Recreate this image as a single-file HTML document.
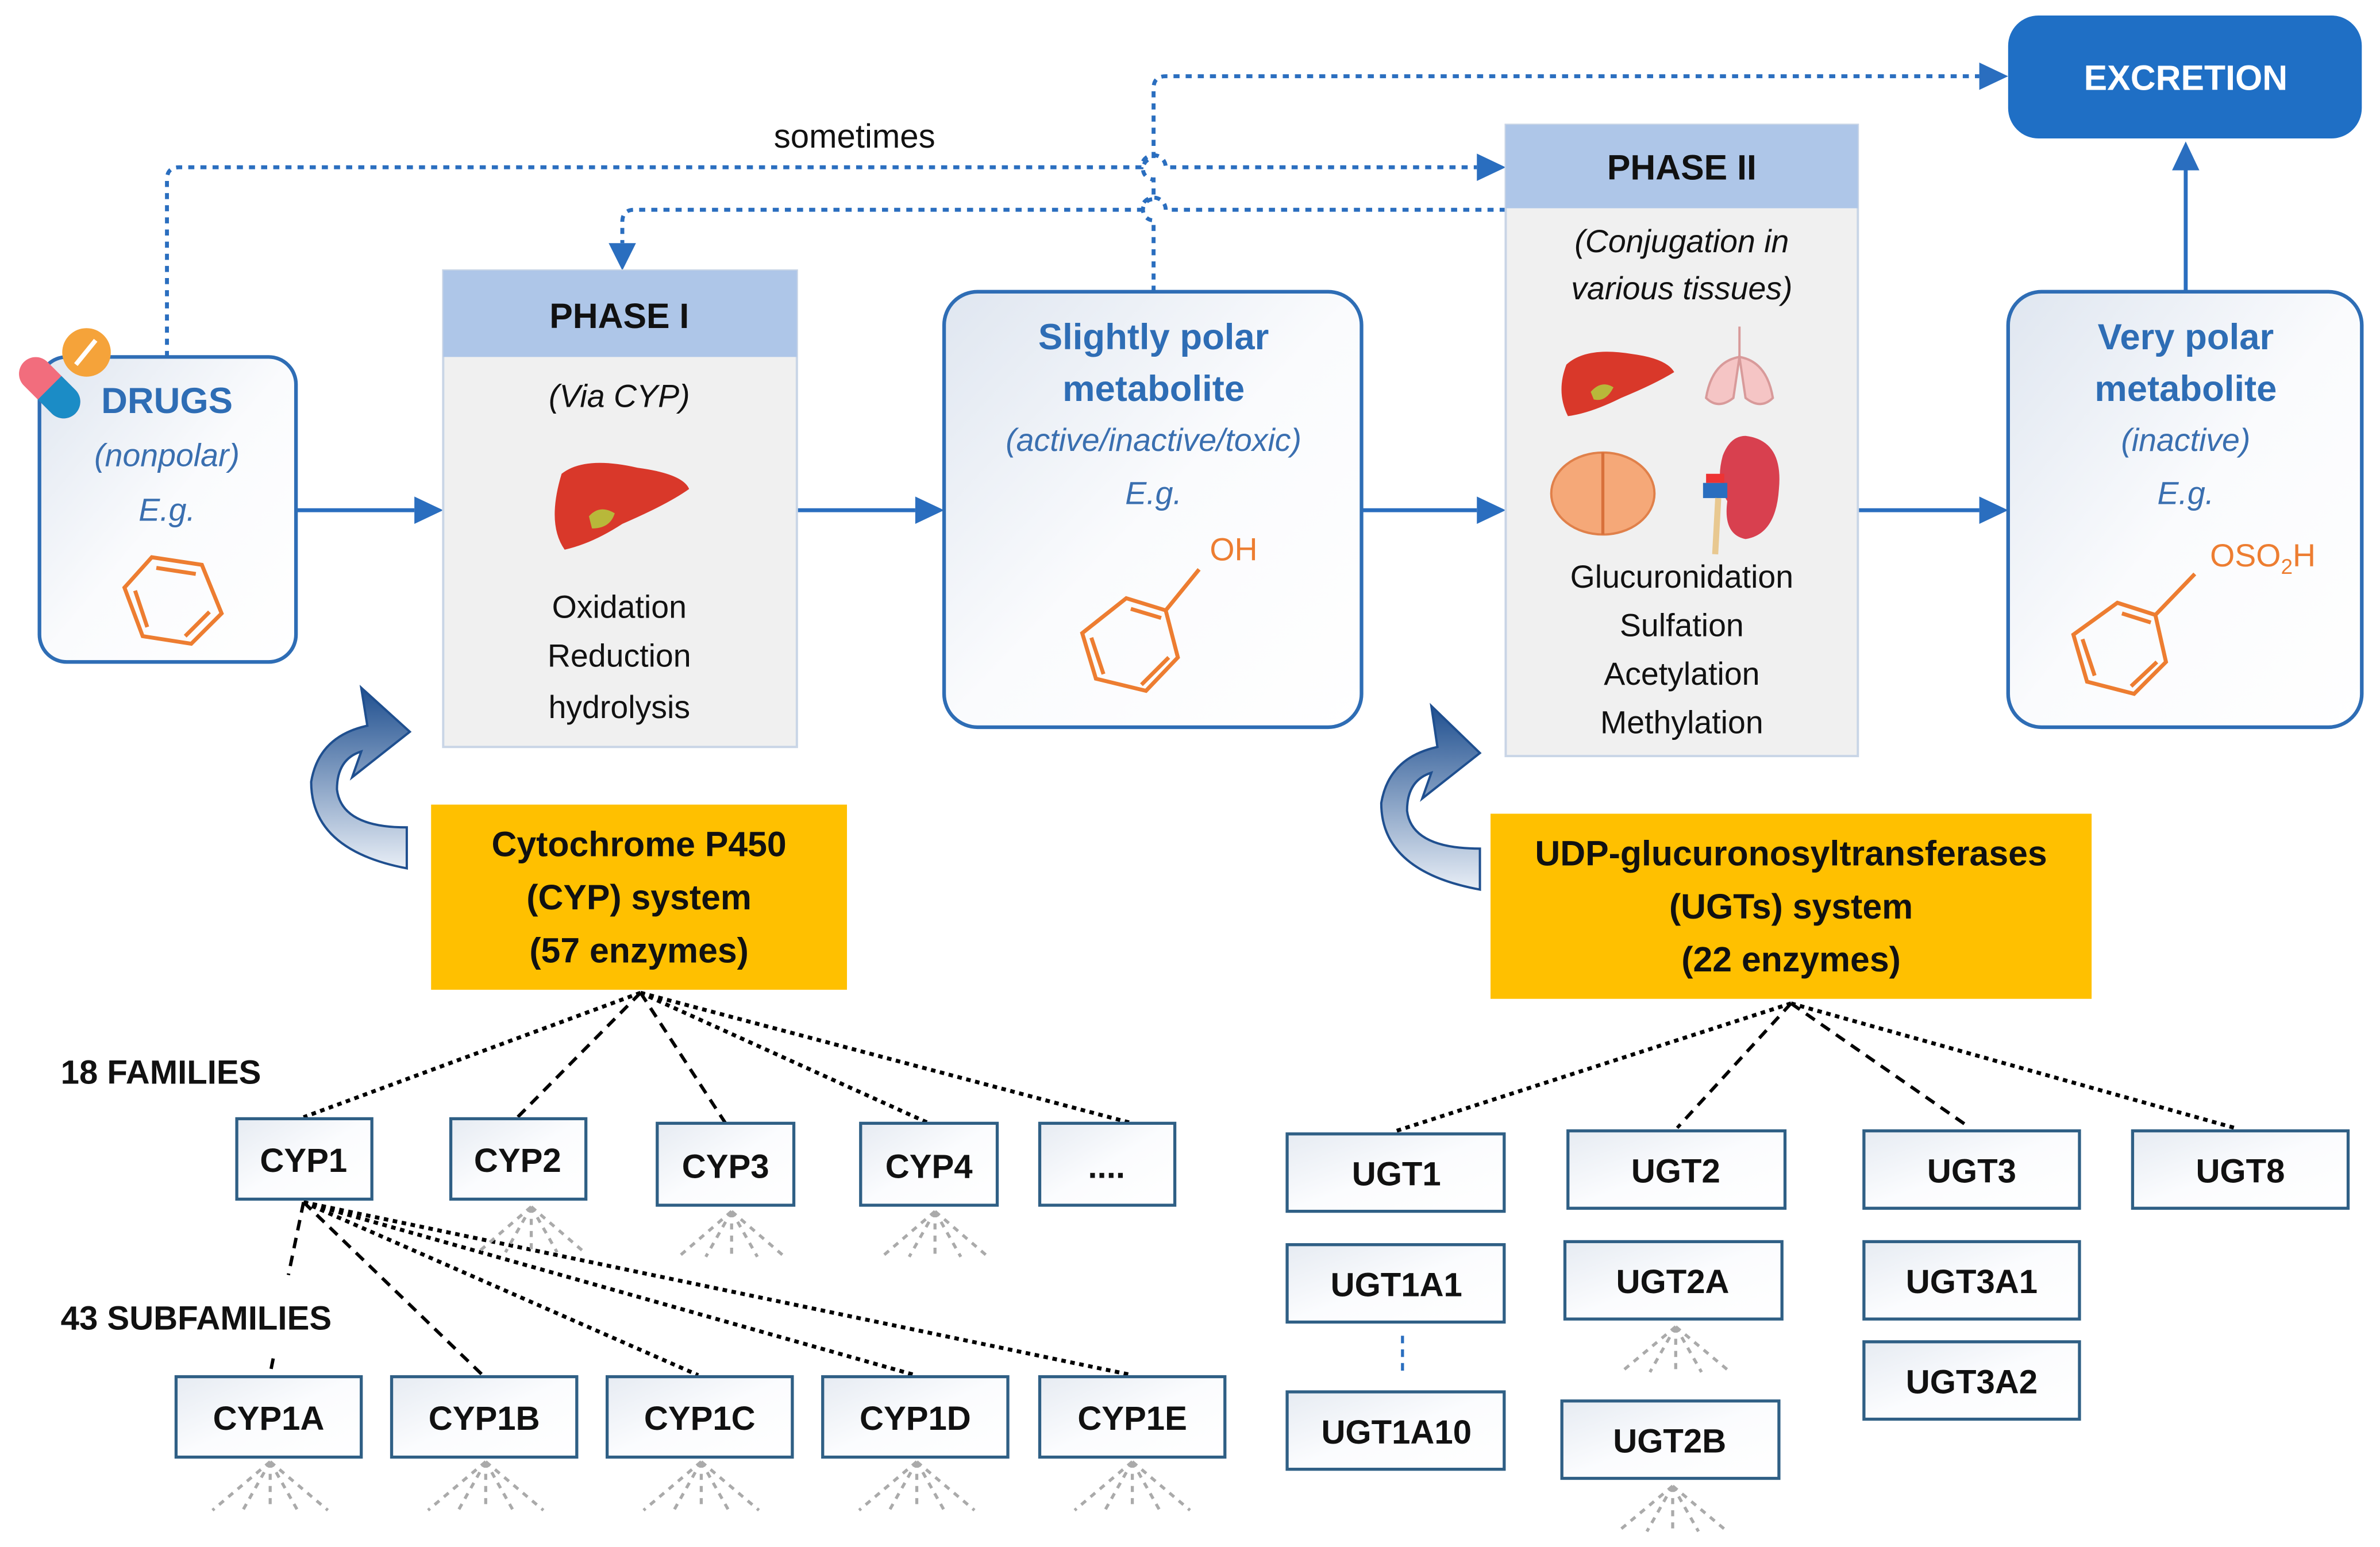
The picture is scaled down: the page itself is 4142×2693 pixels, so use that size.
<!DOCTYPE html>
<html><head><meta charset="utf-8"><style>
html,body{margin:0;padding:0;background:#fff;}
svg{display:block;}
text{font-family:"Liberation Sans",sans-serif;}
.b{font-weight:bold;}
.box{fill:url(#bg);stroke:#2f5f85;stroke-width:2;}
.bt{font-size:22px;font-weight:bold;fill:#111;text-anchor:middle;}
.fan{stroke:#aaa;stroke-width:2;stroke-dasharray:4 4;fill:none;}
.dl{stroke:#000;stroke-width:2.6;stroke-dasharray:3 3;fill:none;}
.dd{stroke:#000;stroke-width:2.2;stroke-dasharray:7 5;fill:none;}
.blu{stroke:#2a6ebf;stroke-width:2.6;fill:none;}
.dot{stroke:#2a6ebf;stroke-width:2.6;stroke-dasharray:4 4;fill:none;}
.ben{stroke:#ed7d31;stroke-width:2.6;fill:none;}
</style></head><body>
<svg width="4142" height="2693" viewBox="0 0 1568 1019" xmlns="http://www.w3.org/2000/svg">
<defs>
<linearGradient id="bg" x1="0" y1="0" x2="1" y2="1"><stop offset="0" stop-color="#e6ebf2"/><stop offset="0.5" stop-color="#fbfcfe"/><stop offset="1" stop-color="#fff"/></linearGradient>
<linearGradient id="rb" x1="0" y1="0" x2="1" y2="1"><stop offset="0" stop-color="#dfe6f0"/><stop offset="0.5" stop-color="#fafbfd"/><stop offset="1" stop-color="#fff"/></linearGradient>
<linearGradient id="ca" x1="0" y1="0" x2="0" y2="1"><stop offset="0" stop-color="#1f4f8f"/><stop offset="1" stop-color="#e8eef6"/></linearGradient>
</defs>

<!-- dotted connectors -->
<path class="dot" d="M110,235 V118 Q110,110 118,110 H752 a8,8 0 0 1 16,0 H973" />
<path d="M973,101 L992,110 L973,119 z" fill="#2a6ebf"/>
<path class="dot" d="M760,192 V145 a7,7 0 0 1 0,-14 V118 a7,7 0 0 1 0,-14 V58 Q760,50 768,50 H1304"/>
<path d="M1304,41 L1323,50 L1304,59 z" fill="#2a6ebf"/>
<path class="dot" d="M992,138 H768 a8,8 0 0 0 -16,0 H418 Q410,138 410,146 V160"/>
<path d="M401,160 L410,178 L419,160 z" fill="#2a6ebf"/>
<text x="563" y="97" font-size="22" text-anchor="middle" fill="#111">sometimes</text>

<!-- solid arrows -->
<path class="blu" d="M195,336 H273"/><path d="M273,327 L292,336 L273,345 z" fill="#2a6ebf"/>
<path class="blu" d="M525,336 H603"/><path d="M603,327 L622,336 L603,345 z" fill="#2a6ebf"/>
<path class="blu" d="M897,336 H973"/><path d="M973,327 L992,336 L973,345 z" fill="#2a6ebf"/>
<path class="blu" d="M1224,336 H1304"/><path d="M1304,327 L1323,336 L1304,345 z" fill="#2a6ebf"/>
<path class="blu" d="M1440,192 V112"/><path d="M1431,112 L1440,93 L1449,112 z" fill="#2a6ebf"/>

<!-- DRUGS -->
<rect x="26" y="235" width="169" height="201" rx="18" fill="url(#rb)" stroke="#2e6db5" stroke-width="2.4"/>
<g transform="translate(32,256) rotate(-45)">
<rect x="-10" y="-24" width="22" height="48" rx="11" fill="#f26d7d"/>
<path d="M-10,0 H12 V13 A11,11 0 0 1 -10,13 z" fill="#1b8cc6"/>
</g>
<circle cx="57" cy="232" r="16" fill="#f5a33a"/>
<path d="M50,240 L63,224" stroke="#fff" stroke-width="3"/>
<text x="110" y="272" class="b" font-size="24" text-anchor="middle" fill="#2e6db5">DRUGS</text>
<text x="110" y="307" font-size="21" font-style="italic" text-anchor="middle" fill="#3a6fb0">(nonpolar)</text>
<text x="110" y="343" font-size="21" font-style="italic" text-anchor="middle" fill="#3a6fb0">E.g.</text>
<path class="ben" d="M100,367 L133,372 L146,404 L126,424 L94,419 L82,387 z M103,374 L129,378 M138,403 L122,419 M89,389 L97,413"/>

<!-- PHASE I -->
<rect x="292" y="178" width="233" height="314" fill="#f0f0f0" stroke="#c9d5e6" stroke-width="1.5"/>
<rect x="292" y="178" width="233" height="57" fill="#aec6e8"/>
<text x="408" y="216" class="b" font-size="23" text-anchor="middle" fill="#111">PHASE I</text>
<text x="408" y="268" font-size="21" font-style="italic" text-anchor="middle" fill="#111">(Via CYP)</text>
<path d="M370,312 Q385,300 420,308 Q450,312 454,322 Q440,332 410,345 Q390,358 372,362 Q360,345 370,312 z" fill="#d9382a"/>
<path d="M388,340 Q395,332 405,338 Q402,348 390,348 z" fill="#b8b83a"/>
<text x="408" y="407" font-size="21" text-anchor="middle" fill="#111">Oxidation</text>
<text x="408" y="439" font-size="21" text-anchor="middle" fill="#111">Reduction</text>
<text x="408" y="473" font-size="21" text-anchor="middle" fill="#111">hydrolysis</text>

<!-- Slightly polar -->
<rect x="622" y="192" width="275" height="287" rx="22" fill="url(#rb)" stroke="#2e6db5" stroke-width="2.4"/>
<text x="760" y="230" class="b" font-size="24" text-anchor="middle" fill="#2e6db5">Slightly polar</text>
<text x="760" y="264" class="b" font-size="24" text-anchor="middle" fill="#2e6db5">metabolite</text>
<text x="760" y="297" font-size="21" font-style="italic" text-anchor="middle" fill="#3a6fb0">(active/inactive/toxic)</text>
<text x="760" y="332" font-size="21" font-style="italic" text-anchor="middle" fill="#3a6fb0">E.g.</text>
<text x="797" y="369" font-size="21" fill="#ed7d31">OH</text>
<path class="ben" d="M742,394 L768,402 L776,433 L755,455 L722,447 L713,417 z M745,401 L765,407 M770,433 L752,451 M719,420 L727,444 M768,402 L790,375"/>

<!-- PHASE II -->
<rect x="992" y="82" width="232" height="416" fill="#f0f0f0" stroke="#c9d5e6" stroke-width="1.5"/>
<rect x="992" y="82" width="232" height="55" fill="#aec6e8"/>
<text x="1108" y="118" class="b" font-size="23" text-anchor="middle" fill="#111">PHASE II</text>
<text x="1108" y="166" font-size="21" font-style="italic" text-anchor="middle" fill="#111">(Conjugation in</text>
<text x="1108" y="197" font-size="21" font-style="italic" text-anchor="middle" fill="#111">various tissues)</text>
<path d="M1032,240 Q1045,228 1075,233 Q1098,236 1103,245 Q1090,253 1068,262 Q1048,272 1033,274 Q1025,258 1032,240 z" fill="#d9382a"/>
<path d="M1048,258 Q1055,250 1063,255 Q1058,265 1050,263 z" fill="#b8b83a"/>
<path d="M1146,215 V235 M1146,235 Q1128,238 1124,262 Q1132,270 1142,262 Z M1146,235 Q1164,238 1168,262 Q1160,270 1150,262 Z" fill="#f5c5c5" stroke="#d89a9a" stroke-width="1.5"/>
<ellipse cx="1056" cy="325" rx="34" ry="27" fill="#f5a878" stroke="#e0804a" stroke-width="1.5"/>
<path d="M1056,298 V352" stroke="#d8703a" stroke-width="2"/>
<path d="M1150,287 Q1175,290 1172,322 Q1170,352 1150,355 Q1135,352 1138,330 Q1130,318 1135,300 Q1140,287 1150,287 z" fill="#d8404f"/>
<rect x="1122" y="318" width="16" height="10" fill="#2a6ebf"/><rect x="1124" y="312" width="12" height="6" fill="#e33"/>
<path d="M1132,328 L1130,365" stroke="#e8c890" stroke-width="4"/>
<text x="1108" y="387" font-size="21" text-anchor="middle" fill="#111">Glucuronidation</text>
<text x="1108" y="419" font-size="21" text-anchor="middle" fill="#111">Sulfation</text>
<text x="1108" y="451" font-size="21" text-anchor="middle" fill="#111">Acetylation</text>
<text x="1108" y="483" font-size="21" text-anchor="middle" fill="#111">Methylation</text>

<!-- Excretion -->
<rect x="1323" y="10" width="233" height="81" rx="20" fill="#1f6fc5"/>
<text x="1440" y="59" class="b" font-size="23" text-anchor="middle" fill="#fff">EXCRETION</text>

<!-- Very polar -->
<rect x="1323" y="192" width="233" height="287" rx="22" fill="url(#rb)" stroke="#2e6db5" stroke-width="2.4"/>
<text x="1440" y="230" class="b" font-size="24" text-anchor="middle" fill="#2e6db5">Very polar</text>
<text x="1440" y="264" class="b" font-size="24" text-anchor="middle" fill="#2e6db5">metabolite</text>
<text x="1440" y="297" font-size="21" font-style="italic" text-anchor="middle" fill="#3a6fb0">(inactive)</text>
<text x="1440" y="332" font-size="21" font-style="italic" text-anchor="middle" fill="#3a6fb0">E.g.</text>
<text x="1456" y="373" font-size="21" fill="#ed7d31">OSO<tspan font-size="14" dy="5">2</tspan><tspan dy="-5">H</tspan></text>
<path class="ben" d="M1395,397 L1420,405 L1427,436 L1406,457 L1375,449 L1366,418 z M1398,404 L1417,410 M1421,436 L1404,452 M1372,421 L1380,445 M1420,405 L1446,378"/>

<!-- curved arrows -->
<path d="M268,572 Q205,560 205,515 Q210,485 242,478 L238,453 L270,482 L232,512 L238,495 Q222,500 222,520 Q225,545 268,545 z" fill="url(#ca)" stroke="#1f4f8f" stroke-width="1.5"/>
<path d="M975,586 Q910,574 910,529 Q915,499 947,492 L943,465 L975,496 L937,526 L943,509 Q927,514 927,534 Q930,559 975,559 z" fill="url(#ca)" stroke="#1f4f8f" stroke-width="1.5"/>

<!-- CYP system -->
<rect x="284" y="530" width="274" height="122" fill="#ffc000"/>
<text x="421" y="564" class="b" font-size="23" text-anchor="middle" fill="#111">Cytochrome  P450</text>
<text x="421" y="599" class="b" font-size="23" text-anchor="middle" fill="#111">(CYP) system</text>
<text x="421" y="634" class="b" font-size="23" text-anchor="middle" fill="#111">(57 enzymes)</text>

<rect x="982" y="536" width="396" height="122" fill="#ffc000"/>
<text x="1180" y="570" class="b" font-size="23" text-anchor="middle" fill="#111">UDP-glucuronosyltransferases</text>
<text x="1180" y="605" class="b" font-size="23" text-anchor="middle" fill="#111">(UGTs) system</text>
<text x="1180" y="640" class="b" font-size="23" text-anchor="middle" fill="#111">(22 enzymes)</text>

<!-- CYP tree lines -->
<path class="dl" d="M422,654 L200,736"/>
<path class="dd" d="M422,654 L340,737"/>
<path class="dd" d="M422,654 L478,740"/>
<path class="dl" d="M422,654 L612,740"/>
<path class="dl" d="M422,654 L746,740"/>
<path class="dd" d="M200,792 L190,840"/>
<path class="dd" d="M180,895 L178,905"/>
<path class="dd" d="M200,792 L318,906"/>
<path class="dl" d="M200,792 L460,906"/>
<path class="dl" d="M200,792 L603,906"/>
<path class="dl" d="M200,792 L746,906"/>

<!-- UGT tree lines -->
<path class="dl" d="M1180,661 L920,745"/>
<path class="dd" d="M1180,661 L1105,743"/>
<path class="dd" d="M1180,661 L1298,743"/>
<path class="dl" d="M1180,661 L1472,743"/>
<path d="M924,880 V905" stroke="#2a6ebf" stroke-width="2" stroke-dasharray="5 4"/>

<text x="40" y="714" class="b" font-size="22" fill="#111">18 FAMILIES</text>
<text x="40" y="876" class="b" font-size="22" fill="#111">43 SUBFAMILIES</text>

<!-- boxes -->
<rect class="box" x="156" y="737" width="89" height="53"/><text class="bt" x="200" y="772">CYP1</text>
<rect class="box" x="297" y="737" width="89" height="53"/><text class="bt" x="341" y="772">CYP2</text>
<rect class="box" x="433" y="740" width="90" height="54"/><text class="bt" x="478" y="776">CYP3</text>
<rect class="box" x="567" y="740" width="90" height="54"/><text class="bt" x="612" y="776">CYP4</text>
<rect class="box" x="685" y="740" width="89" height="54"/><text class="bt" x="729" y="776">....</text>

<rect class="box" x="116" y="907" width="122" height="53"/><text class="bt" x="177" y="942">CYP1A</text>
<rect class="box" x="258" y="907" width="122" height="53"/><text class="bt" x="319" y="942">CYP1B</text>
<rect class="box" x="400" y="907" width="122" height="53"/><text class="bt" x="461" y="942">CYP1C</text>
<rect class="box" x="542" y="907" width="122" height="53"/><text class="bt" x="603" y="942">CYP1D</text>
<rect class="box" x="685" y="907" width="122" height="53"/><text class="bt" x="746" y="942">CYP1E</text>

<rect class="box" x="848" y="747" width="143" height="51"/><text class="bt" x="920" y="781">UGT1</text>
<rect class="box" x="1033" y="745" width="143" height="51"/><text class="bt" x="1104" y="779">UGT2</text>
<rect class="box" x="1228" y="745" width="142" height="51"/><text class="bt" x="1299" y="779">UGT3</text>
<rect class="box" x="1405" y="745" width="142" height="51"/><text class="bt" x="1476" y="779">UGT8</text>
<rect class="box" x="848" y="820" width="143" height="51"/><text class="bt" x="920" y="854">UGT1A1</text>
<rect class="box" x="848" y="917" width="143" height="51"/><text class="bt" x="920" y="951">UGT1A10</text>
<rect class="box" x="1031" y="818" width="143" height="51"/><text class="bt" x="1102" y="852">UGT2A</text>
<rect class="box" x="1029" y="923" width="143" height="51"/><text class="bt" x="1100" y="957">UGT2B</text>
<rect class="box" x="1228" y="818" width="142" height="51"/><text class="bt" x="1299" y="852">UGT3A1</text>
<rect class="box" x="1228" y="884" width="142" height="51"/><text class="bt" x="1299" y="918">UGT3A2</text>

<!-- fans -->
<g class="fan">
<path d="M350,795 l-35,30 M350,795 l-17,30 M350,795 l0,30 M350,795 l17,30 M350,795 l35,30"/>
<path d="M482,798 l-35,30 M482,798 l-17,30 M482,798 l0,30 M482,798 l17,30 M482,798 l35,30"/>
<path d="M616,798 l-35,30 M616,798 l-17,30 M616,798 l0,30 M616,798 l17,30 M616,798 l35,30"/>
<path d="M178,963 l-38,32 M178,963 l-18,32 M178,963 l0,32 M178,963 l18,32 M178,963 l38,32"/>
<path d="M320,963 l-38,32 M320,963 l-18,32 M320,963 l0,32 M320,963 l18,32 M320,963 l38,32"/>
<path d="M462,963 l-38,32 M462,963 l-18,32 M462,963 l0,32 M462,963 l18,32 M462,963 l38,32"/>
<path d="M604,963 l-38,32 M604,963 l-18,32 M604,963 l0,32 M604,963 l18,32 M604,963 l38,32"/>
<path d="M746,963 l-38,32 M746,963 l-18,32 M746,963 l0,32 M746,963 l18,32 M746,963 l38,32"/>
<path d="M1104,874 l-36,30 M1104,874 l-17,30 M1104,874 l0,30 M1104,874 l17,30 M1104,874 l36,30"/>
<path d="M1102,979 l-36,30 M1102,979 l-17,30 M1102,979 l0,30 M1102,979 l17,30 M1102,979 l36,30"/>
</g>
</svg>
</body></html>
